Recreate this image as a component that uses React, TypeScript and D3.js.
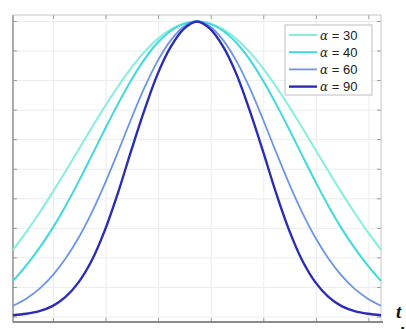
import * as d3 from "d3";
import React from "react";

const tValues = [
  -3.5, -3.25, -3, -2.75, -2.5, -2.25, -2, -1.75, -1.5, -1.25, -1, -0.75, -0.5, -0.25, 0,
  0.25, 0.5, 0.75, 1, 1.25, 1.5, 1.75, 2, 2.25, 2.5, 2.75, 3, 3.25, 3.5,
];

const alpha30 = [
  0.227, 0.287, 0.352, 0.421, 0.493, 0.567, 0.641, 0.713, 0.781, 0.843, 0.897, 0.941, 0.973, 0.993, 1.0,
  0.993, 0.973, 0.941, 0.897, 0.843, 0.781, 0.713, 0.641, 0.567, 0.493, 0.421, 0.352, 0.287, 0.227,
];
const alpha40 = [
  0.122, 0.174, 0.233, 0.3, 0.376, 0.459, 0.547, 0.636, 0.722, 0.802, 0.872, 0.928, 0.968, 0.992, 1.0,
  0.992, 0.968, 0.928, 0.872, 0.802, 0.722, 0.636, 0.547, 0.459, 0.376, 0.3, 0.233, 0.174, 0.122,
];
const alpha60 = [
  0.038, 0.062, 0.095, 0.14, 0.198, 0.269, 0.354, 0.452, 0.56, 0.671, 0.776, 0.866, 0.936, 0.983, 1.0,
  0.983, 0.936, 0.866, 0.776, 0.671, 0.56, 0.452, 0.354, 0.269, 0.198, 0.14, 0.095, 0.062, 0.038,
];
const alpha90 = [
  0.006, 0.011, 0.02, 0.037, 0.068, 0.118, 0.192, 0.295, 0.422, 0.564, 0.7, 0.822, 0.914, 0.975, 1.0,
  0.975, 0.914, 0.822, 0.7, 0.564, 0.422, 0.295, 0.192, 0.118, 0.068, 0.037, 0.02, 0.011, 0.006,
];

const seriesLabels = ["30", "40", "60", "90"];
const seriesValues = [alpha30, alpha40, alpha60, alpha90];
const seriesColors = ["#86eedb", "#3fd9dc", "#6b95ea", "#2b2db8"];
const seriesWidths = [2, 2, 1.8, 2.4];

// grid positions (no tick labels visible in the crop)
const xTicks = [-2.73, -1.73, -0.73, 0.27, 1.27, 2.27, 3.27];
const yTicks = [0, 0.1, 0.2, 0.3, 0.4, 0.5, 0.6, 0.7, 0.8, 0.9, 1.0];

const W = 406;
const H = 329;
const box = { left: 13, right: 381, top: 15, bottom: 322 };

export default function App() {
  const x = d3.scaleLinear().domain([-3.5, 3.5]).range([box.left, box.right]);
  const y = d3.scaleLinear().domain([0, 1]).range([317, 21.5]);

  const line = d3
    .line<number>()
    .x((_, i) => x(tValues[i]))
    .y((d) => y(d))
    .curve(d3.curveCatmullRom);

  const legend = { x: 285, y: 25, w: 87, h: 70 };

  return (
    <div style={{ position: "fixed", left: 0, top: 0, width: W, height: H, background: "#fff" }}>
      <svg width={W} height={H} style={{ display: "block" }}>
        <rect width={W} height={H} fill="#fff" />
        {/* grid */}
        {xTicks.map((t) => (
          <line key={"gx" + t} x1={x(t)} x2={x(t)} y1={box.top} y2={box.bottom} stroke="#ececec" strokeWidth={1} />
        ))}
        {yTicks.map((t) => (
          <line key={"gy" + t} x1={box.left} x2={box.right} y1={y(t)} y2={y(t)} stroke="#ececec" strokeWidth={1} />
        ))}
        {/* inward tick marks */}
        {xTicks.map((t) => (
          <g key={"tx" + t} stroke="#9a9a9a" strokeWidth={1}>
            <line x1={x(t)} x2={x(t)} y1={box.bottom} y2={box.bottom - 4} />
            <line x1={x(t)} x2={x(t)} y1={box.top} y2={box.top + 4} />
          </g>
        ))}
        {yTicks.map((t) => (
          <g key={"ty" + t} stroke="#9a9a9a" strokeWidth={1}>
            <line x1={box.left} x2={box.left + 4} y1={y(t)} y2={y(t)} />
            <line x1={box.right} x2={box.right - 4} y1={y(t)} y2={y(t)} />
          </g>
        ))}
        {/* box */}
        <line x1={box.left} x2={box.right} y1={box.top} y2={box.top} stroke="#c4c4c4" />
        <line x1={box.right} x2={box.right} y1={box.top} y2={box.bottom} stroke="#c4c4c4" />
        <line x1={box.left} x2={box.left} y1={box.top} y2={box.bottom} stroke="#8f8f8f" strokeWidth={1.5} />
        <line x1={box.left} x2={box.right + 2} y1={box.bottom} y2={box.bottom} stroke="#8a8a8a" strokeWidth={2} />

        {/* curves */}
        {seriesValues.map((vals, i) => (
          <path
            key={"s" + i}
            d={line(vals) ?? ""}
            fill="none"
            stroke={seriesColors[i]}
            strokeWidth={seriesWidths[i]}
          />
        ))}

        {/* legend */}
        <rect x={legend.x} y={legend.y} width={legend.w} height={legend.h} fill="#fff" stroke="#bdbdbd" strokeWidth={1} />
        {seriesLabels.map((lab, i) => {
          const ly = 35 + i * 17.2;
          return (
            <g key={"l" + i}>
              <line x1={289} x2={317} y1={ly} y2={ly} stroke={seriesColors[i]} strokeWidth={seriesWidths[i]} />
              <text x={320} y={ly + 4.5} fontSize={13} fill="#222" fontFamily="Liberation Sans, Arial, sans-serif">
                <tspan fontFamily="DejaVu Serif, serif" fontStyle="italic" fontSize={12}>
                  α
                </tspan>
                <tspan> = {lab}</tspan>
              </text>
            </g>
          );
        })}

        {/* axis label, cropped at the edge as in the source */}
        <text x={396} y={318} fontSize={19} fontStyle="italic" fontWeight="bold" fill="#111" fontFamily="Liberation Serif, serif">
          t
        </text>
        <text x={400} y={340} fontSize={19} fontWeight="bold" fill="#111" fontFamily="Liberation Sans, sans-serif">
          l
        </text>
      </svg>
    </div>
  );
}
